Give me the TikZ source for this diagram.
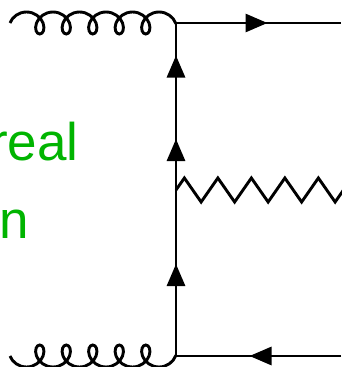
\documentclass[tikz,border=0pt]{standalone}
\usepackage{fontspec}
\setmainfont{Liberation Sans}
\usetikzlibrary{arrows.meta,decorations.pathmorphing,decorations.markings}
\definecolor{realgreen}{RGB}{0,180,0}

\begin{document}
\begin{tikzpicture}[x=1pt,y=-1pt,
   line/.style={line width=2.9pt},
   fermion/.style={line,postaction={decorate},
      decoration={markings,mark=at position 0.5 with
      {\pgftransformxshift{9pt}\arrow{Triangle[length=22pt,width=18pt]}}}},
   gluon/.style={line,decorate,decoration={coil,amplitude=11pt,segment length=26.5pt,aspect=0.9}},
   zline/.style={line,decorate,decoration={zigzag,amplitude=12pt,segment length=33.5pt}},
   tlabel/.style={font=\fontsize{53pt}{53pt}\selectfont,text=realgreen,inner sep=0pt,anchor=base west},
   ]
   \useasboundingbox (0,0) rectangle (341,367);
   \coordinate (v1) at (176,23);
   \coordinate (v2) at (176,106);
   \coordinate (v3) at (176,190);
   \coordinate (v4) at (176,356);
   \coordinate (g1) at (10,23);
   \coordinate (g2) at (10,356);
   \coordinate (q1) at (341,23);
   \coordinate (q2) at (341,356);
   \coordinate (z) at (344,190);
   \node[tlabel] (real) at (-10,160) {real};
   \node[tlabel] (n) at (-1,238) {n};
   \draw[gluon] (g1) -- (v1);
   \draw[gluon,decoration={mirror}] (g2) -- (v4);
   \draw[fermion] (v1) -- (q1);
   \draw[fermion] (q2) -- (v4);
   \draw[fermion] (v4) -- (v3);
   \draw[fermion] (v3) -- (v2);
   \draw[fermion] (v2) -- (v1);
   \draw[zline] (v3) -- (z);
\end{tikzpicture}
\end{document}
